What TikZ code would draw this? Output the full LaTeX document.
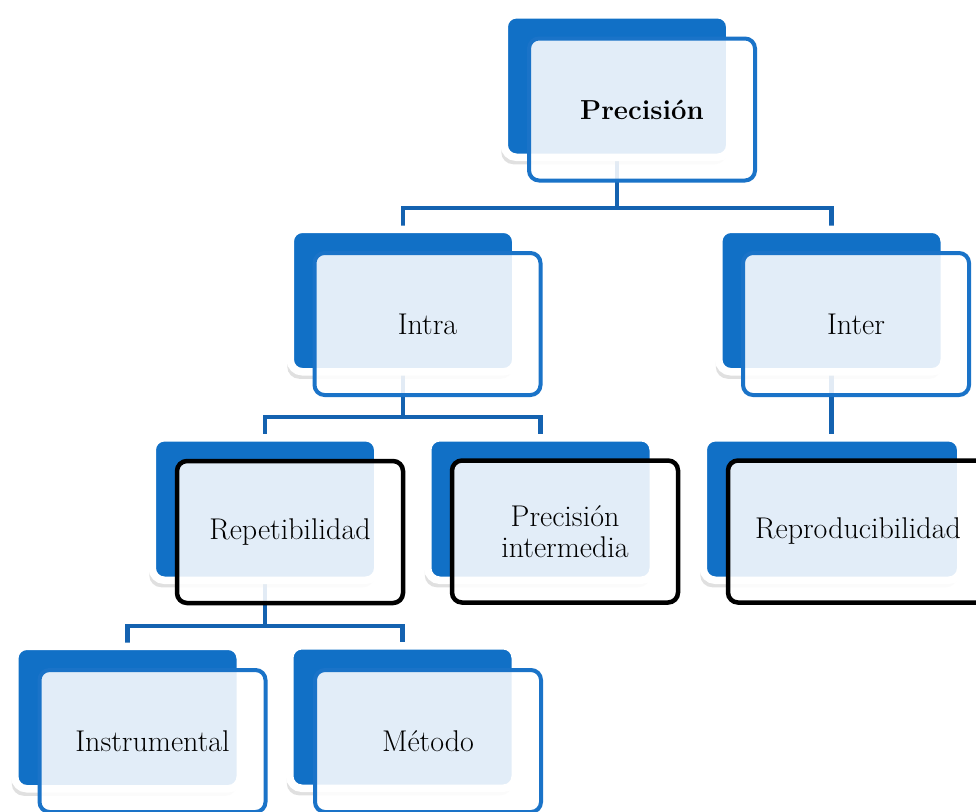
\documentclass[tikz,border=0pt]{standalone}
\usetikzlibrary{shadows}
\definecolor{boxblue}{RGB}{17,112,198}
\definecolor{lineblue}{RGB}{20,98,176}
\definecolor{edgeblue}{RGB}{26,115,200}
\pgfdeclarelayer{paper}
\pgfdeclarelayer{bg}
\pgfsetlayers{paper,bg,main}
\begin{document}
\begin{tikzpicture}[x=1pt,y=-1pt,
  back/.style={draw=white, line width=7.5pt, fill=boxblue, rounded corners=12pt,
    minimum width=225.5pt, minimum height=142.5pt, inner sep=0pt,
    drop shadow={shadow xshift=-3pt, shadow yshift=-7pt, opacity=0.2, fill=black!60}},
  front/.style={draw=edgeblue, line width=4pt, fill=white, fill opacity=0.88, text opacity=1,
    rounded corners=10pt, minimum width=226pt, minimum height=142pt, inner sep=0pt,
    align=center, font=\fontsize{30}{31}\selectfont},
  dark/.style={draw=black, line width=4.5pt},
  link/.style={draw=lineblue, line width=4.5pt}]
\useasboundingbox (0,0) rectangle (976,811);
\begin{pgfonlayer}{paper}
\fill[white] (0,0) rectangle (976,811);
\end{pgfonlayer}
% back boxes
\node[back] (pB) at (617,86) {};
\node[back] (iaB) at (403,300.5) {};
\node[back] (ieB) at (831.5,300.5) {};
\node[back] (rpB) at (265,509) {};
\node[back] (piB) at (540.5,509) {};
\node[back, minimum width=257.5pt] (rdB) at (832,509) {};
\node[back] (isB) at (127.5,717.5) {};
\node[back] (mtB) at (402.5,717) {};
% connectors
\begin{pgfonlayer}{bg}
\draw[link] (pB.center) -- ++(0,122) -| (iaB.north);
\draw[link] (pB.center) ++(0,122) -| (ieB.north);
\draw[link] (iaB.center) -- ++(0,116.5) -| (rpB.north);
\draw[link] (iaB.center) ++(0,116.5) -| (piB.north);
\draw[link] (ieB.center) -- (ieB.center |- rdB.north);
\draw[link] (rpB.center) -- ++(0,117) -| (isB.north);
\draw[link] (rpB.center) ++(0,117) -| (mtB.north);
\end{pgfonlayer}
% front boxes
\node[front, font=\bfseries\fontsize{27.5}{31}\selectfont] (pF) at (642,109.5) {Precisión};
\node[front] (iaF) at (427.5,324) {Intra};
\node[front] (ieF) at (856,324) {Inter};
\node[front, dark] (rpF) at (290,532) {Repetibilidad};
\node[front, dark] (piF) at (565,531.5) {Precisión\\intermedia};
\node[front, dark, minimum width=260pt] (rdF) at (858,531.5) {Reproducibilidad};
\node[front] (isF) at (152.5,741) {Instrumental};
\node[front] (mtF) at (428,741) {Método};
\end{tikzpicture}
\end{document}
